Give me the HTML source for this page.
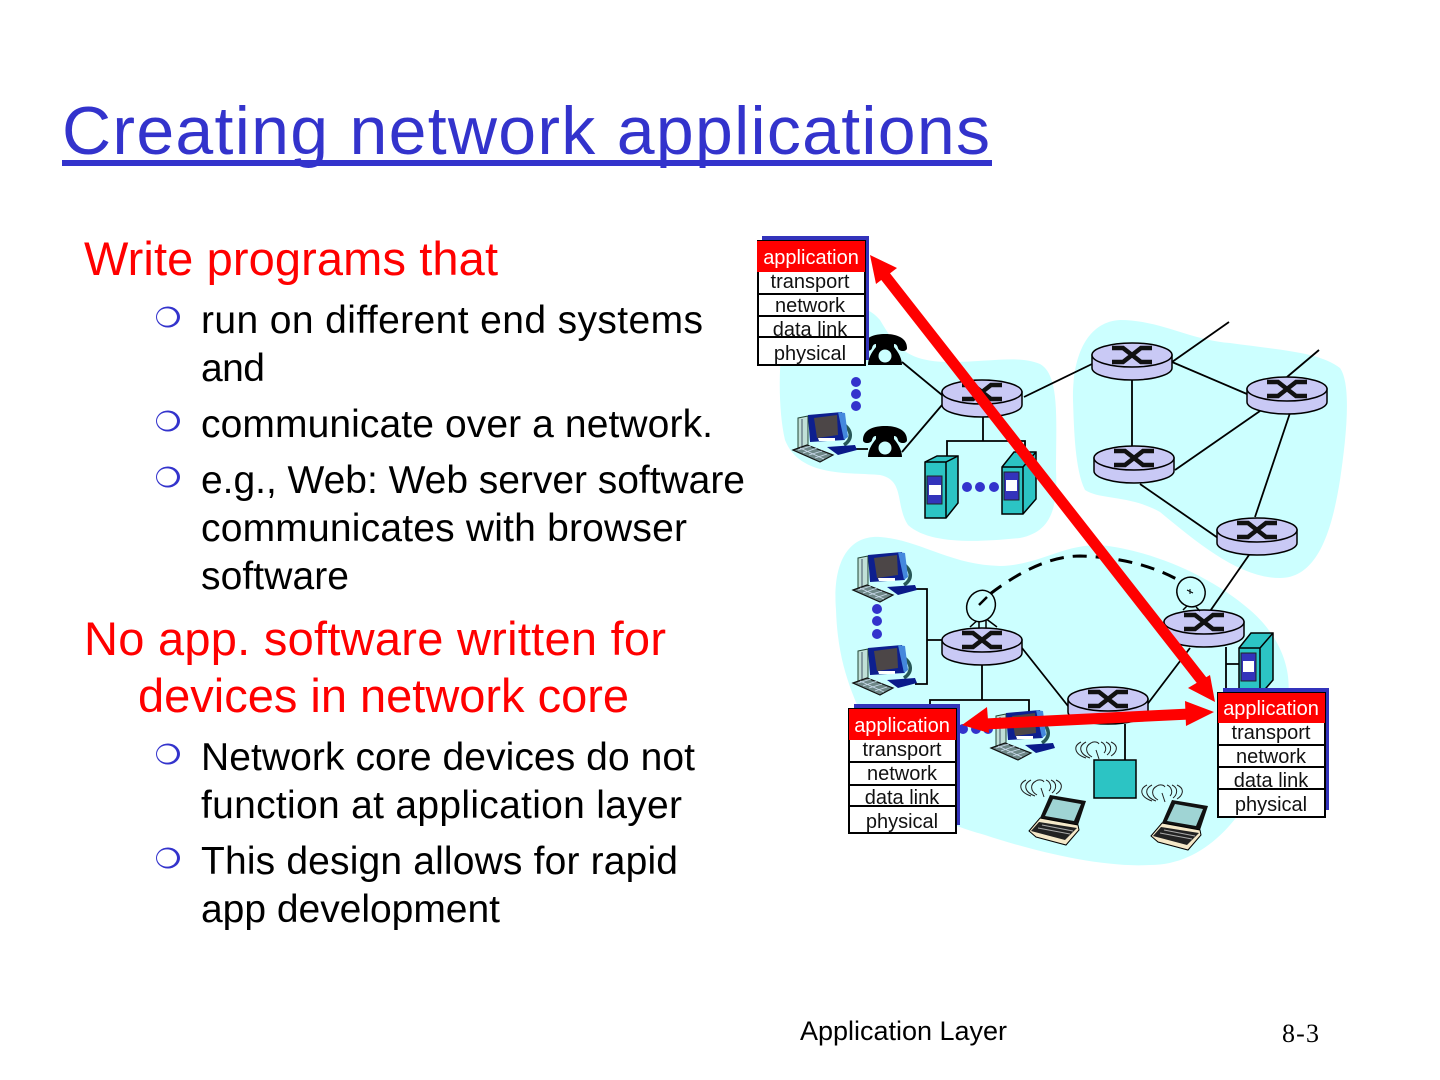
<!DOCTYPE html>
<html><head><meta charset="utf-8"><style>
html,body{margin:0;padding:0;background:#fff}
svg{display:block}
text{font-family:"Liberation Sans",sans-serif}
.r{fill:#ff0000;font-size:47px}
.b{fill:#000;font-size:39px}
.s{font-size:20px;text-anchor:middle;fill:#111}
</style></head><body>
<svg width="1440" height="1080" viewBox="0 0 1440 1080" xmlns="http://www.w3.org/2000/svg">
<defs>
<g id="router">
<path d="M-40,0 V13 C-40,20 -20,25 0,25 C20,25 40,20 40,13 V0 Z" fill="#c9c9f5" stroke="#000" stroke-width="1.5"/>
<ellipse cx="0" cy="0" rx="40" ry="12" fill="#c9c9f5" stroke="#000" stroke-width="1.5"/>
<path d="M-20,-7 H-9 L9,7 H20 M-20,7 H-9 L9,-7 H20" fill="none" stroke="#111" stroke-width="4.5"/>
</g>
<g id="pc">
<path d="M-27,-25 l10,-2 v34 h-10z" fill="#c0e0d8" stroke="#243" stroke-width="1"/>
<path d="M-23,-24 v30" stroke="#456" stroke-width="1"/>
<path d="M18,-19 C27,-13 28,-4 19,2" fill="none" stroke="#285858" stroke-width="3.5"/>
<path d="M-17,-28 L17,-31 L20,-3 L-15,-1 Z" fill="#0d1f8f"/>
<path d="M-11,-25 L12,-28 L13,-8 L-8,-5 Z" fill="#4c4647"/>
<path d="M-7,-5 H10 L10,-2 H-6Z" fill="#fff"/>
<path d="M13,-31 L20,-30 L23,-6 L19,-3 Z" fill="#4488dd"/>
<path d="M2,4 L30,2 L32,7 L13,12 Z" fill="#0a1a8a"/>
<path d="M-32,7 L-18,2 L8,12 L-5,19 Z" fill="#6f8888" stroke="#111" stroke-width="1.2"/>
<path d="M-27,7 L-14,3 M-22,10 L-8,5 M-16,12 L-3,8 M-10,15 L2,11 M-25,5 L-1,16" stroke="#cde" stroke-width=".8"/>
</g>
<g id="server">
<path d="M0,15 L12,0 H34 V47 L21,62 H0 Z" fill="#2cc4c4" stroke="#000" stroke-width="1.5"/>
<path d="M0,15 H21 L34,0 M21,15 V62" fill="none" stroke="#000" stroke-width="1.5"/>
<rect x="2" y="20" width="15" height="28" fill="#3333bb" stroke="#222" stroke-width="1"/>
<rect x="4" y="28" width="11" height="11" fill="#fff"/>
</g>
<g id="phone">
<path d="M-22,-5 C-22,-16 -10,-19 0,-19 C10,-19 22,-16 22,-5 C22,-1 14,-1 13,-5 C12,-9 10,-9 9,-9 V-6 C14,0 17,6 17,12 H-17 C-17,6 -14,0 -9,-6 V-9 C-10,-9 -12,-9 -13,-5 C-14,-1 -22,-1 -22,-5 Z" fill="#000"/>
<circle cx="0" cy="3" r="6.5" fill="#cff"/>
</g>
<g id="laptop">
<path d="M-16,-4 L-6,-27 L30,-21 L22,3 Z" fill="#111" />
<path d="M-11,-6 L-3,-23 L25,-18 L18,-1 Z" fill="#9fd4d4"/>
<path d="M-27,9 L-16,-4 L22,3 L23,8 L10,23 L-20,15 Z" fill="#f5e8c8" stroke="#000" stroke-width="1"/>
<path d="M-17,0 L21,6 L9,18 L-25,9 Z" fill="#222"/>
<path d="M-18,6 L14,12 M-14,3 L17,9" stroke="#aaa" stroke-width="1"/>
</g>
<g id="wifi" fill="none" stroke="#222" stroke-width="1">
<path d="M-7,-7 C-13,-4 -13,3 -6,7 M-12,-8 C-20,-4 -19,4 -8,8 M-17,-8 C-25,-4 -24,4 -12,8 M-7,-7 C-4,-9 0,-8 1,-6 M3,-8 C8,-6 9,0 6,3 M8,-8 C15,-5 13,2 9,5 M13,-8 C22,-4 18,3 13,6 M-2,0 L1,9"/>
</g>
</defs>

<!-- Title -->
<text x="62" y="154" font-size="68" fill="#3333cc" textLength="928">Creating network applications</text>
<rect x="62" y="160" width="930" height="6" fill="#3333cc"/>

<!-- Text -->
<text class="r" x="84" y="275" textLength="414">Write programs that</text>
<text class="b" x="201" y="333" textLength="502">run on different end systems</text>
<text class="b" x="201" y="381" textLength="64">and</text>
<text class="b" x="201" y="437" textLength="512">communicate over a network.</text>
<text class="b" x="201" y="493" textLength="544">e.g., Web: Web server software</text>
<text class="b" x="201" y="541" textLength="486">communicates with browser</text>
<text class="b" x="201" y="589" textLength="148">software</text>
<text class="r" x="84" y="655" textLength="582">No app. software written for</text>
<text class="r" x="138" y="712" textLength="491">devices in network core</text>
<text class="b" x="201" y="770" textLength="494">Network core devices do not</text>
<text class="b" x="201" y="818" textLength="481">function at application layer</text>
<text class="b" x="201" y="874" textLength="477">This design allows for rapid</text>
<text class="b" x="201" y="922" textLength="299">app development</text>

<!-- Bullets -->
<g id="bl"><ellipse cx="168" cy="317" rx="12" ry="10.5" fill="#3333cc"/><ellipse cx="167" cy="317" rx="10" ry="8.6" fill="#fff"/></g>
<use href="#bl" y="104"/><use href="#bl" y="160"/><use href="#bl" y="437"/><use href="#bl" y="541"/>

<!-- Footer -->
<text x="800" y="1040" font-size="27" fill="#000" textLength="207">Application Layer</text>
<text x="1282" y="1042" font-size="26" fill="#000" style="font-family:'Liberation Serif',serif" textLength="37">8-3</text>

<!-- Clouds -->
<g fill="#ccffff">
<path d="M785,330 C800,295 860,295 880,320 C895,345 905,362 950,362 C990,362 1020,355 1040,364 C1060,375 1056,420 1056,470 C1058,510 1050,532 1020,538 C980,542 930,545 908,525 C895,505 905,480 880,475 C850,472 800,478 785,440 C778,410 778,360 785,330 Z"/>
<path d="M1073,400 C1072,360 1085,322 1120,320 C1160,320 1190,340 1230,343 C1280,350 1320,352 1340,368 C1352,385 1346,440 1340,480 C1332,530 1318,578 1280,578 C1240,578 1200,545 1160,512 C1130,495 1100,500 1085,490 C1075,470 1074,430 1073,400 Z"/>
<path d="M836,610 C832,560 850,535 880,537 C920,540 950,565 1000,566 C1040,565 1060,545 1100,545 C1150,550 1210,575 1250,610 C1285,640 1295,680 1285,710 C1265,790 1220,865 1150,865 C1100,868 1030,850 985,835 C930,820 900,800 875,745 C855,700 838,670 836,610 Z"/>
</g>

<!-- Links -->
<g fill="none" stroke="#000" stroke-width="1.8">
<path d="M902,362 L942,395 M902,452 L942,405 M850,449 H868"/>
<path d="M983,415 V441 M947,462 V441 H1025 V458"/>
<path d="M1024,397 L1092,364 M1172,362 L1229,322 M1172,362 L1247,394 M1132,380 V447 M1175,470 L1260,411 M1290,413 L1255,517 M1140,484 L1218,538 M1287,377 L1319,350 M1249,555 L1190,640"/>
<path d="M915,589 H927 V684 H915 M927,640 H942 M1022,648 L1068,706 M982,665 V700 M930,727 V700 H1029 V712 M1125,724 V760 M1146,706 L1190,648 M1226,647 V690 M1226,664 H1240"/>
</g>
<path d="M990,594 Q1040,556 1080,556 Q1140,558 1180,581" fill="none" stroke="#000" stroke-width="3" stroke-dasharray="14 9"/>

<!-- Routers -->
<use href="#router" x="982" y="392"/>
<use href="#router" x="1132" y="355"/>
<use href="#router" x="1287" y="389"/>
<use href="#router" x="1134" y="458"/>
<use href="#router" x="1257" y="530"/>
<use href="#router" x="1204" y="622"/>
<use href="#router" x="982" y="640"/>
<use href="#router" x="1108" y="699"/>

<!-- Dishes -->
<g fill="#ccffff" stroke="#000" stroke-width="1.5">
<path d="M970,627 L980,618 M997,627 L985,618 M979,618 V628 M986,618 V628" fill="none"/>
<ellipse cx="981" cy="606" rx="14" ry="16" transform="rotate(25 981 606)"/>
<path d="M979,605 L987,597" fill="none" stroke-width="2.5"/>
<path d="M1183,610 L1187,606 M1196,607 L1200,611" fill="none"/>
<ellipse cx="1191" cy="592" rx="14" ry="15" transform="rotate(-25 1191 592)"/>
<path d="M1187,590 L1193,593 M1190,589 V594" fill="none" stroke-width="1"/>
</g>

<!-- Phones -->
<use href="#phone" x="885" y="353"/>
<use href="#phone" x="885" y="445"/>

<!-- Computers -->
<use href="#pc" x="825" y="443"/>
<use href="#pc" x="885" y="583"/>
<use href="#pc" x="885" y="676"/>
<use href="#pc" x="1023" y="741"/>

<!-- Servers -->
<path d="M925,462 L937,456 H958 V503 L946,518 H925 Z" fill="#2cc4c4" stroke="#000" stroke-width="1.5"/>
<path d="M925,462 H946 L958,456 M946,462 V518" fill="none" stroke="#000" stroke-width="1.5"/>
<rect x="927" y="476" width="15" height="28" fill="#3333bb" stroke="#222" stroke-width="1"/>
<rect x="929" y="485" width="12" height="10" fill="#fff"/>
<use href="#server" x="1002" y="452"/>
<use href="#server" x="1239" y="633"/>

<!-- Dots -->
<g fill="#3333cc">
<circle cx="856" cy="382" r="5"/><circle cx="856" cy="394" r="5"/><circle cx="856" cy="406" r="5"/>
<circle cx="967" cy="487" r="5"/><circle cx="980" cy="487" r="5"/><circle cx="994" cy="487" r="5"/>
<circle cx="877" cy="609" r="5"/><circle cx="877" cy="621" r="5"/><circle cx="877" cy="634" r="5"/>
<circle cx="963" cy="729" r="5"/><circle cx="976" cy="729" r="5"/><circle cx="988" cy="729" r="5"/>
</g>

<!-- AP -->
<rect x="1094" y="760" width="42" height="38" fill="#2cc4c4" stroke="#000" stroke-width="1.5"/>
<use href="#wifi" x="1098" y="750"/>

<!-- Laptops -->
<use href="#laptop" x="1056" y="822"/>
<use href="#wifi" x="1043" y="788"/>
<use href="#laptop" x="1178" y="827"/>
<use href="#wifi" x="1164" y="793"/>

<!-- Stacks -->
<g>
<rect x="762" y="236" width="107" height="124" fill="#3333bb"/>
<rect x="758" y="241" width="107" height="124" fill="#fff" stroke="#000" stroke-width="2"/>
<rect x="757" y="241" width="108" height="31" fill="#ff0000"/>
<path d="M757,294 H866 M757,316 H866 M757,337 H866" stroke="#000" stroke-width="2"/>
<text class="s" x="811" y="264" style="fill:#fff">application</text>
<text class="s" x="810" y="288">transport</text>
<text class="s" x="810" y="312">network</text>
<text class="s" x="810" y="336">data link</text>
<text class="s" x="810" y="360">physical</text>
</g>
<g>
<rect x="854" y="704" width="106" height="121" fill="#3333bb"/>
<rect x="849" y="709" width="107" height="124" fill="#fff" stroke="#000" stroke-width="2"/>
<rect x="849" y="709" width="107" height="31" fill="#ff0000"/>
<path d="M849,762 H956 M850,785 H956 M850,806 H956" stroke="#000" stroke-width="2"/>
<text class="s" x="902" y="732" style="fill:#fff">application</text>
<text class="s" x="902" y="756">transport</text>
<text class="s" x="902" y="780">network</text>
<text class="s" x="902" y="804">data link</text>
<text class="s" x="902" y="828">physical</text>
</g>
<g>
<rect x="1223" y="688" width="106" height="122" fill="#3333bb"/>
<rect x="1218" y="693" width="107" height="124" fill="#fff" stroke="#000" stroke-width="2"/>
<rect x="1218" y="693" width="107" height="30" fill="#ff0000"/>
<path d="M1218,745 H1325 M1219,767 H1325 M1219,789 H1325" stroke="#000" stroke-width="2"/>
<text class="s" x="1271" y="715" style="fill:#fff">application</text>
<text class="s" x="1271" y="739">transport</text>
<text class="s" x="1271" y="763">network</text>
<text class="s" x="1271" y="787">data link</text>
<text class="s" x="1271" y="811">physical</text>
</g>

<!-- Red arrows -->
<g fill="#ff0000" stroke="none">
<path d="M882,272 L1203,682" stroke="#ff0000" stroke-width="11" fill="none"/>
<path d="M870,255 L897,268 L876,284 Z"/>
<path d="M1215,702 L1188,688 L1210,675 Z"/>
<path d="M985,724 L1190,714" stroke="#ff0000" stroke-width="11" fill="none"/>
<path d="M962,725 L987,707 L989,733 Z"/>
<path d="M1214,712 L1185,701 L1186,726 Z"/>
</g>
</svg>
</body></html>
